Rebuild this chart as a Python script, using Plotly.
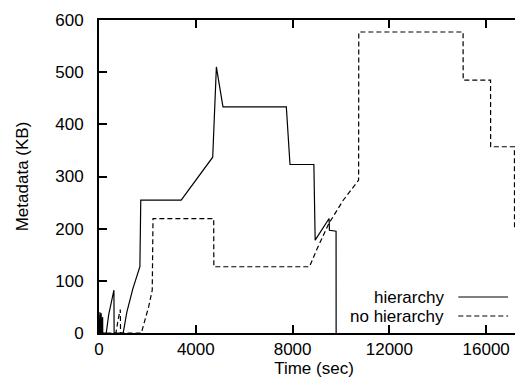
import plotly.graph_objects as go

# hierarchy (solid)
hier_t = [0, 40, 45, 90, 95, 150, 155, 300, 400, 500, 617, 625, 1000, 1150, 1400, 1690, 1726, 3396,
          3800, 4250, 4699, 4851, 5123, 7741, 7893, 8880, 8933, 9509, 9523, 9797, 9800]
hier_v = [0, 40, 0, 38, 0, 30, 0, 0, 35, 60, 82, 0, 0, 40, 85, 127, 254.6, 254.6,
          280, 310, 337, 510, 433.6, 433.6, 323, 323, 178, 219.5, 197, 195, 0]

# no hierarchy (dashed)
nohier_t = [0, 60, 65, 130, 135, 700, 800, 880, 890, 1750, 1900, 2050, 2200, 2232, 4740, 4745,
            8699, 9000, 9500, 10100, 10729, 10735, 15046, 15050, 16181, 16185, 17168, 17172,
            17500, 17504]
nohier_v = [0, 35, 0, 30, 0, 0, 28, 45, 0, 0, 25, 50, 82, 219.4, 219.4, 127,
            127, 160, 210, 255, 293, 577, 577, 484.6, 484.6, 357, 357, 200,
            200, 0]

x_ticks = [0, 4000, 8000, 12000, 16000]
x_tick_labels = ["0", "4000", "8000", "12000", "16000"]
y_ticks = [0, 100, 200, 300, 400, 500, 600]
y_tick_labels = ["0", "100", "200", "300", "400", "500", "600"]

FONT = "Liberation Sans"
FS = 17
fig = go.Figure()
fig.add_trace(go.Scatter(x=hier_t, y=hier_v, mode="lines", name="hierarchy",
                         line=dict(color="black", width=1.2), showlegend=False))
fig.add_trace(go.Scatter(x=nohier_t, y=nohier_v, mode="lines", name="no hierarchy",
                         line=dict(color="black", width=1.2, dash="5px,3px"), showlegend=False))

# manual legend (text left of sample, like gnuplot)
legend_rows = [("hierarchy", "solid", 0.1150), ("no hierarchy", "5px,3px", 0.0543)]
for label, dash, yy in legend_rows:
    fig.add_annotation(x=0.808, y=yy, xref="paper", yref="paper", text=label,
                       showarrow=False, xanchor="right", yanchor="middle",
                       font=dict(family=FONT, size=FS, color="black"))
    fig.add_shape(type="line", xref="paper", yref="paper", x0=0.8356, x1=0.9514, y0=yy, y1=yy,
                  line=dict(color="black", width=1.2, dash=dash))

axis_common = dict(showline=True, linecolor="black", linewidth=2, mirror="ticks",
                   ticks="inside", ticklen=8, tickwidth=1.5, tickcolor="black",
                   showgrid=False, zeroline=False,
                   tickfont=dict(family=FONT, size=FS, color="black"))
fig.update_xaxes(range=[0, 17770], tickvals=x_ticks, ticktext=x_tick_labels,
                 ticklabelstandoff=0,
                 title=dict(text="Time (sec)", font=dict(family=FONT, size=FS, color="black"), standoff=4),
                 **axis_common)
fig.update_yaxes(range=[0, 600], tickvals=y_ticks, ticktext=y_tick_labels,
                 ticklabelstandoff=10,
                 title=dict(text="Metadata (KB)", font=dict(family=FONT, size=FS, color="black"), standoff=22),
                 **axis_common)
fig.update_layout(width=523, height=383, margin=dict(l=91, r=0, t=12, b=58),
                  plot_bgcolor="white", paper_bgcolor="white",
                  font=dict(family=FONT, size=FS, color="black"))
fig.write_html("out.html")
